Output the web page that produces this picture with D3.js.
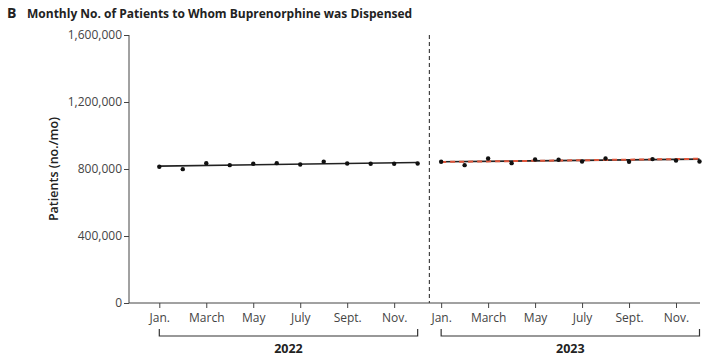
<!DOCTYPE html>
<html><head><meta charset="utf-8">
<script src="https://cdn.jsdelivr.net/npm/d3@7"></script>
<style>body{margin:0;background:#fff}svg{display:block}text{font-family:"Open Sans","Noto Sans",sans-serif}</style>
</head><body>
<script>
const monthLabels = ["Jan.","March","May","July","Sept.","Nov."];
const labelMonthIdx = [0,2,4,6,8,10];
const years = ["2022","2023"];
const values2022 = [813000,799000,835000,823000,831000,835000,827000,843000,833000,831000,831000,833000];
const values2023 = [843000,823000,863000,835000,857000,855000,845000,863000,843000,859000,851000,845000];
const trend2022 = [817000,839000];
const trend2023 = [843000,859000];
const trendCf2023 = [842000,861000];
const yTicks = [0,400000,800000,1200000,1600000];

const W=725,H=359;
const svg=d3.select("body").append("svg").attr("width",W).attr("height",H);
const x=d3.scaleLinear().domain([0,23]).range([159.3,699.5]);
const y=d3.scaleLinear().domain([0,1600000]).range([303,35]);

svg.append("text").attr("x",7).attr("y",17.5).attr("font-size",14).attr("font-weight",700).attr("fill","#222").text("B");
svg.append("text").attr("x",27).attr("y",17.5).attr("font-size",12).attr("font-weight",700).attr("fill","#222").text("Monthly No. of Patients to Whom Buprenorphine was Dispensed");

// y axis
const ya=svg.append("g").attr("transform","translate(129,0)").call(d3.axisLeft(y).tickValues(yTicks).tickSize(5).tickPadding(2).tickFormat(d3.format(",")));
ya.select(".domain").attr("stroke","#444").attr("d","M0,35V303");
ya.selectAll(".tick line").attr("stroke","#444");
ya.selectAll("text").attr("font-size",12).attr("fill","#444").attr("font-family","'Open Sans',sans-serif");
svg.append("text").attr("transform","translate(58,169) rotate(-90)").attr("text-anchor","middle").attr("font-size",12.5).attr("font-weight",600).attr("fill","#222").text("Patients (no./mo)");

// x axis
const xticks=[];years.forEach((yr,i)=>labelMonthIdx.forEach((m,j)=>xticks.push({v:i*12+m,l:monthLabels[j]})));
const xa=svg.append("g").attr("transform","translate(0,303)").call(d3.axisBottom(x).tickValues(xticks.map(d=>d.v)).tickSize(5).tickPadding(5).tickFormat((d,i)=>xticks[i].l));
xa.select(".domain").attr("stroke","#444").attr("d","M129,0H700");
xa.selectAll(".tick line").attr("stroke","#444");
xa.selectAll("text").attr("font-size",12).attr("fill","#444").attr("font-family","'Open Sans',sans-serif");

// year brackets
years.forEach((yr,i)=>{
  const x0=x(i*12),x1=x(i*12+11);
  svg.append("path").attr("d",`M${x0},329V336H${x1}V329`).attr("fill","none").attr("stroke","#333").attr("stroke-width",1.2);
  svg.append("text").attr("x",(x0+x1)/2).attr("y",353).attr("text-anchor","middle").attr("font-size",12.5).attr("font-weight",700).attr("fill","#222").text(yr);
});

// dashed divider
svg.append("line").attr("x1",x(11.5)).attr("x2",x(11.5)).attr("y1",35).attr("y2",303).attr("stroke","#444").attr("stroke-width",1.2).attr("stroke-dasharray","4,3");

// trend lines
const tl=(arr,off,stroke,dash,w)=>svg.append("line").attr("x1",x(off)).attr("x2",x(off+11)).attr("y1",y(arr[0])).attr("y2",y(arr[1])).attr("stroke",stroke).attr("stroke-width",w).attr("stroke-dasharray",dash);
tl(trend2022,0,"#222",null,1.6);
tl(trend2023,12,"#222",null,1.6);
tl(trendCf2023,12,"#e0553a","5,4",2);

// points
[values2022,values2023].forEach((vals,i)=>{
  svg.append("g").selectAll("circle").data(vals).join("circle")
    .attr("cx",(d,j)=>x(i*12+j)).attr("cy",d=>y(d)).attr("r",2.2).attr("fill","#111");
});
</script>
</body></html>
